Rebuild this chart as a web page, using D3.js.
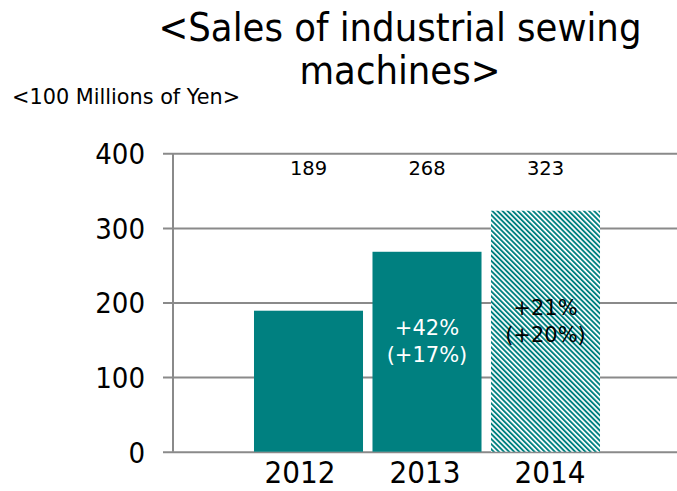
<!DOCTYPE html>
<html>
<head>
<meta charset="utf-8">
<script src="https://cdn.jsdelivr.net/npm/d3@7"></script>
<style>
  html, body { margin: 0; padding: 0; background: #fff; }
  svg { display: block; }
  text { font-family: "DejaVu Sans", Verdana, sans-serif; }
  .cond { font-family: "DejaVu Sans Condensed", "DejaVu Sans", sans-serif; font-stretch: condensed; }
</style>
</head>
<body>
<svg id="chart" width="677" height="491"></svg>
<script>
// ---- data ----
const titleLines = ["<Sales of industrial sewing", "machines>"];
const unitLabel = "<100 Millions of Yen>";
const years = ["2012", "2013", "2014"];
const sales = [189, 268, 323];
const forecast = [false, false, true];
const growth = ["", "+42%", "+21%"];
const growthLocal = ["", "(+17%)", "(+20%)"];
const yTicks = [0, 100, 200, 300, 400];

// ---- layout ----
const teal = "#008080";
const grid = "#8a8a8a";
const svg = d3.select("#chart");

const defs = svg.append("defs");
const pat = defs.append("pattern")
  .attr("id", "hatch")
  .attr("patternUnits", "userSpaceOnUse")
  .attr("width", 3.6).attr("height", 10)
  .attr("patternTransform", "rotate(-45)");
pat.append("rect").attr("width", 3.6).attr("height", 10).attr("fill", "#fff");
pat.append("rect").attr("width", 1.9).attr("height", 10).attr("fill", teal);

const y = d3.scaleLinear().domain([0, 400]).range([451.7, 153.3]);
const xBar = d3.scaleBand().domain(years).range([249.25, 604.75])
  .paddingInner(0.08).paddingOuter(0.04);
const xLab = d3.scalePoint().domain(years).range([300, 550]);

// title
svg.append("g").selectAll("text").data(titleLines).join("text")
  .attr("class", "cond")
  .attr("x", 400).attr("y", (d, i) => 41 + i * 43)
  .attr("text-anchor", "middle")
  .attr("font-size", 39.5).attr("fill", "#000")
  .text(d => d);

svg.append("text").attr("x", 12).attr("y", 104)
  .attr("font-size", 20.8).attr("fill", "#000").text(unitLabel);

// gridlines + y axis
const yAxis = d3.axisLeft(y).tickValues(yTicks).tickSize(-(677 - 163)).tickPadding(0).tickFormat(d3.format("d"));
const gy = svg.append("g").attr("transform", "translate(163,0)").call(yAxis);
gy.select(".domain").remove();
gy.selectAll(".tick line").attr("stroke", grid).attr("stroke-width", 2);
gy.selectAll(".tick text").attr("class", "cond").attr("x", -18).attr("dy", "0.36em")
  .attr("font-size", 29).attr("fill", "#000").attr("font-family", null);

// vertical axis line
svg.append("line").attr("x1", 173).attr("x2", 173)
  .attr("y1", y(400)).attr("y2", y(0))
  .attr("stroke", grid).attr("stroke-width", 2);

// bars
svg.append("g").selectAll("rect").data(years).join("rect")
  .attr("x", d => xBar(d))
  .attr("width", xBar.bandwidth())
  .attr("y", (d, i) => y(sales[i]))
  .attr("height", (d, i) => y(0) - y(sales[i]))
  .attr("fill", (d, i) => forecast[i] ? "url(#hatch)" : teal);

// value labels at top
svg.append("g").selectAll("text").data(years).join("text")
  .attr("x", d => xBar(d) + xBar.bandwidth() / 2)
  .attr("y", 175)
  .attr("text-anchor", "middle")
  .attr("font-size", 19.5).attr("fill", "#000")
  .text((d, i) => sales[i]);

// growth labels inside bars
years.forEach((d, i) => {
  if (!growth[i]) return;
  const cx = xBar(d) + xBar.bandwidth() / 2;
  const mid = (y(sales[i]) + y(0)) / 2;
  const col = forecast[i] ? "#000" : "#fff";
  svg.append("text").attr("x", cx).attr("y", mid - 16.5)
    .attr("text-anchor", "middle").attr("font-size", 21).attr("fill", col).text(growth[i]);
  svg.append("text").attr("x", cx).attr("y", mid + 10.5)
    .attr("text-anchor", "middle").attr("font-size", 21).attr("fill", col).text(growthLocal[i]);
});

// x labels
svg.append("g").selectAll("text").data(years).join("text")
  .attr("class", "cond")
  .attr("x", d => xLab(d)).attr("y", 483)
  .attr("text-anchor", "middle")
  .attr("font-size", 31).attr("fill", "#000")
  .text(d => d);
</script>
</body>
</html>
